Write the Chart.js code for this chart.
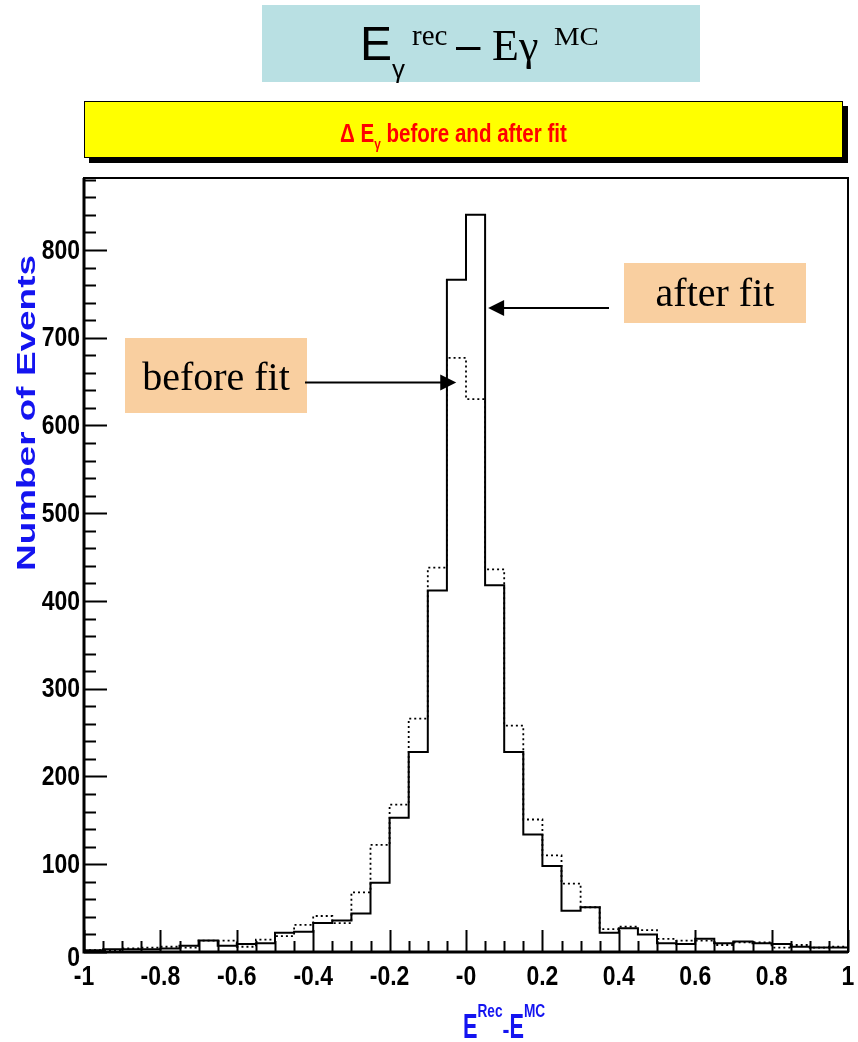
<!DOCTYPE html>
<html>
<head>
<meta charset="utf-8">
<script src="https://cdn.jsdelivr.net/npm/chart.js@4.4.0/dist/chart.umd.min.js"></script>
<style>
  html, body { margin: 0; padding: 0; background: #fff; }
  canvas { display: block; }
</style>
</head>
<body>
<canvas id="histo" width="858" height="1042"></canvas>
<script>
// HISTOGRAM DATA (bin lower edges, bin width 0.05)
const binLow = [-1, -0.95, -0.9, -0.85, -0.8, -0.75, -0.7, -0.65, -0.6, -0.55,
                -0.5, -0.45, -0.4, -0.35, -0.3, -0.25, -0.2, -0.15, -0.1, -0.05,
                0, 0.05, 0.1, 0.15, 0.2, 0.25, 0.3, 0.35, 0.4, 0.45,
                0.5, 0.55, 0.6, 0.65, 0.7, 0.75, 0.8, 0.85, 0.9, 0.95];
const binWidth = 0.05;
const afterFit = [2, 3, 3, 3, 4, 7, 13, 7, 9, 10,
                  22, 23, 33, 36, 44, 79, 153, 228, 412, 766,
                  840, 418, 228, 134, 98, 47, 51, 22, 27, 20,
                  10, 9, 15, 10, 12, 10, 9, 6, 5, 5];
const beforeFit = [2, 2, 4, 5, 6, 5, 13, 13, 6, 14,
                   18, 31, 41, 33, 68, 122, 168, 266, 438, 677,
                   630, 436, 258, 151, 110, 78, 51, 26, 29, 25,
                   15, 13, 13, 8, 11, 11, 5, 8, 5, 6];

// AXIS TICKS
const xTickValues = [-1, -0.8, -0.6, -0.4, -0.2, 0, 0.2, 0.4, 0.6, 0.8, 1];
const xTickLabels = ["-1", "-0.8", "-0.6", "-0.4", "-0.2", "-0", "0.2", "0.4", "0.6", "0.8", "1"];
const yTickValues = [0, 100, 200, 300, 400, 500, 600, 700, 800];
const yMax = 882;

const SANS = '"Liberation Sans", Arial, sans-serif';
const SERIF = '"Liberation Serif", "Times New Roman", serif';
const BLUE = "#1414f0";

// build step outline points: one point per bin edge, last point closes the last bin
function stepPoints(values) {
  const pts = binLow.map((x, i) => ({ x: x, y: values[i] }));
  pts.push({ x: binLow[binLow.length - 1] + binWidth, y: values[values.length - 1] });
  return pts;
}

// text squeezed horizontally (ROOT's narrow bold look)
function fillScaled(ctx, text, x, y, sx) {
  ctx.save();
  ctx.translate(x, y);
  ctx.scale(sx, 1);
  ctx.fillText(text, 0, 0);
  ctx.restore();
}

// draw a run of text pieces, each with own font / offset / squeeze
function drawPieces(ctx, x, y, pieces, color) {
  ctx.fillStyle = color;
  ctx.textAlign = "left";
  ctx.textBaseline = "alphabetic";
  pieces.forEach(p => {
    const sx = p.sx || 1;
    if (p.x !== undefined) x = p.x;
    x += p.dx || 0;
    ctx.font = p.font;
    fillScaled(ctx, p.t, x, y + (p.dy || 0), sx);
    x += ctx.measureText(p.t).width * sx;
  });
}

function arrow(ctx, x1, y1, x2, y2) {
  const dir = Math.sign(x2 - x1);
  ctx.strokeStyle = "#000";
  ctx.fillStyle = "#000";
  ctx.lineWidth = 2;
  ctx.beginPath();
  ctx.moveTo(x1, y1);
  ctx.lineTo(x2 - dir * 12, y2);
  ctx.stroke();
  ctx.beginPath();
  ctx.moveTo(x2, y2);
  ctx.lineTo(x2 - dir * 16, y2 - 8);
  ctx.lineTo(x2 - dir * 16, y2 + 8);
  ctx.closePath();
  ctx.fill();
}

const decorPlugin = {
  id: "decor",
  beforeDraw(chart) {
    const ctx = chart.ctx;
    ctx.save();
    ctx.fillStyle = "#fff";
    ctx.fillRect(0, 0, chart.width, chart.height);

    // top cyan label box
    ctx.fillStyle = "#b9e0e3";
    ctx.fillRect(262, 5, 438, 77);
    drawPieces(ctx, 360, 60, [
      { t: "E", font: "48px " + SANS },
      { t: "\u03b3", font: "26px " + SANS, dy: 18, x: 392 },
      { t: "rec", font: "29px " + SERIF, dy: -15, x: 412 },
      { t: "\u2013", font: "44px " + SANS, x: 456 },
      { t: "E\u03b3", font: "44px " + SERIF, x: 492 },
      { t: "MC", font: "25px " + SERIF, dy: -15, x: 554, sx: 1.15 }
    ], "#000");

    // yellow title box with shadow
    ctx.fillStyle = "#000";
    ctx.fillRect(89, 106, 759, 57);
    ctx.fillStyle = "#ffff00";
    ctx.fillRect(84, 101, 759, 57);
    ctx.strokeStyle = "#000";
    ctx.lineWidth = 1;
    ctx.strokeRect(84.5, 101.5, 758, 56);
    drawPieces(ctx, 340, 142, [
      { t: "\u0394 E", font: "bold 26px " + SANS, sx: 0.79 },
      { t: "\u03b3", font: "bold 15px " + SANS, dy: 7, sx: 0.79 },
      { t: " before and after fit", font: "bold 26px " + SANS, sx: 0.79 }
    ], "#ff0000");
    ctx.restore();
  },
  afterDraw(chart) {
    const ctx = chart.ctx;
    const xs = chart.scales.x, ys = chart.scales.y;
    const a = chart.chartArea;
    ctx.save();

    // frame
    ctx.strokeStyle = "#000";
    ctx.lineWidth = 2;
    ctx.strokeRect(a.left, a.top, a.right - a.left, a.bottom - a.top);
    ctx.lineWidth = 3;
    ctx.beginPath();
    ctx.moveTo(a.left, a.top);
    ctx.lineTo(a.left, a.bottom);
    ctx.lineTo(a.right, a.bottom);
    ctx.stroke();

    // y ticks (major 100, minor 20)
    ctx.lineWidth = 2;
    for (let v = 0; v <= yMax; v += 20) {
      const py = Math.round(ys.getPixelForValue(v)) + 0.5;
      const len = v % 100 === 0 ? 23 : 12;
      ctx.beginPath();
      ctx.moveTo(a.left, py);
      ctx.lineTo(a.left + len, py);
      ctx.stroke();
    }
    // x ticks (major 0.2, minor 0.05)
    for (let i = 0; i <= 40; i++) {
      const px = Math.round(xs.getPixelForValue(-1 + i * 0.05)) + 0.5;
      const len = i % 4 === 0 ? 22 : 11;
      ctx.beginPath();
      ctx.moveTo(px, a.bottom);
      ctx.lineTo(px, a.bottom - len);
      ctx.stroke();
    }

    // tick labels
    ctx.fillStyle = "#000";
    ctx.font = "bold 28px " + SANS;
    ctx.textAlign = "right";
    ctx.textBaseline = "middle";
    yTickValues.forEach(v => {
      const dy = v === 0 ? 6 : 1;
      fillScaled(ctx, String(v), a.left - 4, ys.getPixelForValue(v) + dy, 0.82);
    });
    ctx.textAlign = "center";
    xTickValues.forEach((v, i) => {
      fillScaled(ctx, xTickLabels[i], xs.getPixelForValue(v), 977, 0.82);
    });

    // y axis title (stretched wide like the original)
    ctx.save();
    ctx.translate(35, 413);
    ctx.rotate(-Math.PI / 2);
    ctx.font = "bold 26px " + SANS;
    const title = "Number of Events";
    const w = ctx.measureText(title).width;
    ctx.scale(316 / w, 1);
    ctx.fillStyle = BLUE;
    ctx.textAlign = "center";
    ctx.textBaseline = "alphabetic";
    ctx.fillText(title, 0, 0);
    ctx.restore();

    // x axis title
    drawPieces(ctx, 463, 1038, [
      { t: "E", font: "bold 35px " + SANS, sx: 0.62 },
      { t: "Rec", font: "bold 19px " + SANS, dy: -21, sx: 0.72 },
      { t: "-", font: "bold 26px " + SANS, sx: 0.8 },
      { t: "E", font: "bold 35px " + SANS, sx: 0.62 },
      { t: "MC", font: "bold 19px " + SANS, dy: -21, sx: 0.72 }
    ], BLUE);

    // annotation boxes
    ctx.fillStyle = "#f9cfa0";
    ctx.fillRect(624, 263, 182, 60);
    ctx.fillRect(125, 338, 182, 75);
    ctx.fillStyle = "#000";
    ctx.font = "40px " + SERIF;
    ctx.textAlign = "center";
    ctx.textBaseline = "alphabetic";
    ctx.fillText("after fit", 715, 306);
    ctx.fillText("before fit", 216, 390);

    // arrows pointing at the two histograms
    arrow(ctx, 609, ys.getPixelForValue(734), xs.getPixelForValue(0.058), ys.getPixelForValue(734));
    arrow(ctx, 305, ys.getPixelForValue(649), xs.getPixelForValue(-0.0255), ys.getPixelForValue(649));

    ctx.restore();
  }
};

new Chart(document.getElementById("histo"), {
  type: "line",
  data: {
    datasets: [
      {
        label: "after fit",
        data: stepPoints(afterFit),
        stepped: true,
        borderColor: "#000",
        borderWidth: 2,
        pointRadius: 0,
        fill: false,
        order: 2
      },
      {
        label: "before fit",
        data: stepPoints(beforeFit),
        stepped: true,
        borderColor: "#000",
        borderWidth: 1.8,
        borderDash: [2, 3],
        pointRadius: 0,
        fill: false,
        order: 1
      }
    ]
  },
  options: {
    responsive: false,
    animation: false,
    layout: { padding: { left: 84, right: 10, top: 178, bottom: 90 } },
    scales: {
      x: { type: "linear", min: -1, max: 1, display: false },
      y: { min: 0, max: yMax, display: false }
    },
    plugins: {
      legend: { display: false },
      tooltip: { enabled: false }
    }
  },
  plugins: [decorPlugin]
});
</script>
</body>
</html>
